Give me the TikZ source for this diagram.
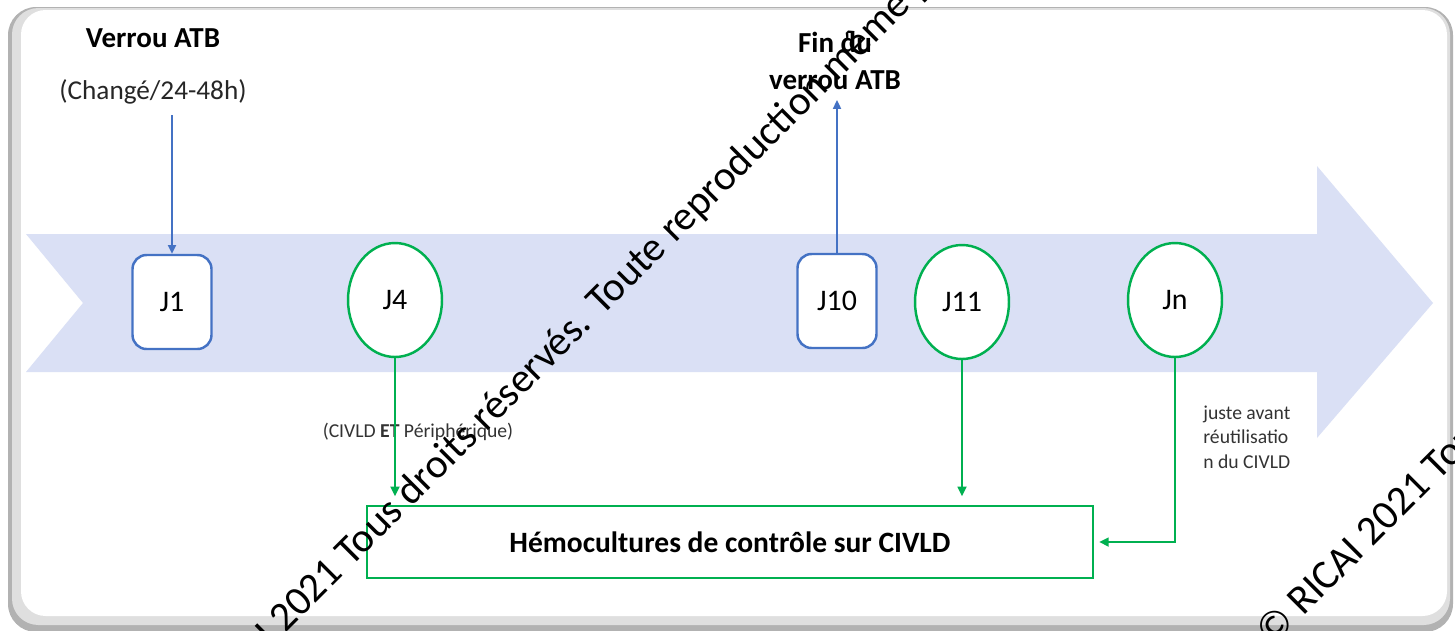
\documentclass[tikz,border=0pt]{standalone}
\usepackage{fontspec}
\setmainfont{Carlito}
\usetikzlibrary{arrows.meta,shapes.geometric}
\definecolor{bl}{HTML}{4472C4}
\definecolor{gr}{HTML}{00B050}
\definecolor{band}{RGB}{218,224,245}
\tikzset{
  sq/.style={draw=bl, line width=1.4pt, fill=white, rounded corners=8pt, minimum width=1.58cm, minimum height=1.88cm, inner sep=0pt, font=\fontsize{17}{20}\selectfont},
  el/.style={ellipse, draw=gr, line width=1.4pt, fill=white, minimum width=1.88cm, minimum height=2.28cm, inner sep=0pt, font=\fontsize{17}{20}\selectfont},
  hbox/.style={draw=gr, line width=1pt, fill=white, minimum width=14.52cm, minimum height=1.44cm, inner sep=0pt, font=\bfseries\fontsize{16.8}{20}\selectfont},
  tb/.style={font=\bfseries\fontsize{16.5}{21}\selectfont, align=center, inner sep=0pt},
  tr/.style={font=\fontsize{15.5}{19}\selectfont, text=black!85, inner sep=0pt},
  small/.style={font=\fontsize{11.2}{14}\selectfont, text=black!80, inner sep=0pt},
  ba/.style={draw=bl, line width=1.1pt, -{Triangle[length=5pt,width=4.5pt]}},
  ga/.style={draw=gr, line width=1.3pt, -{Triangle[length=5.5pt,width=5pt]}},
  wm/.style={rotate=45, inner sep=0pt, font=\fontsize{23.5}{28}\selectfont, text=black}
}
\begin{document}
\begin{tikzpicture}[x=0.02cm,y=-0.02cm]
\useasboundingbox (0,0) rectangle (1455,630);
\begin{scope}
\clip (0,0) rectangle (1455,630);
% frame
\fill[gray!60, rounded corners=16pt] (8,7) rectangle (1453,632);
\fill[gray!25, rounded corners=15pt] (12,8) rectangle (1450,625);
\fill[white, rounded corners=14pt] (21,10) rectangle (1447,616);
% band arrow
\fill[band] (26,234) -- (1317,234) -- (1317,166) -- (1433,303) -- (1317,438) -- (1317,372) -- (26,372) -- (83,303) -- cycle;
% nodes
\node[sq] (j1) at (172,302) {J1};
\node[el] (j4) at (395,300) {J4};
\node[sq] (j10) at (837,301) {J10};
\node[el] (j11) at (962,302) {J11};
\node[el] (jn) at (1175,300) {Jn};
\node[hbox] (h) at (730,542) {Hémocultures de contrôle sur CIVLD};
% labels
\node[tb] (v) at (153,38) {Verrou ATB};
\node[tr] (vc) at (153,92) {(Changé/24-48h)};
\node[tb] (fin) at (835,61) {Fin du\\verrou ATB};
\node[small] (lab4) at (418,432) {(CIVLD \textbf{ET} Périphérique)};
\node[small, align=left, anchor=west] (labn) at (1203,437) {juste avant\\réutilisatio\\n du CIVLD};
% connectors
\coordinate (a1) at (172,115);
\coordinate (a10) at (837,100);
\draw[ba] (a1) -- (j1.north);
\draw[ba] (j10.north) -- (a10);
\draw[ga, shorten >=5pt] (j4.south) -- (j4.south |- h.north);
\draw[ga, shorten >=5pt] (j11.south) -- (j11.south |- h.north);
\draw[ga, shorten >=3pt] (jn.south) |- (h.east);
% watermark
\node[wm, anchor=base west] (wm1) at (285,634) {\llap{© RICAI }2021 Tous droits réservés. Toute reproduction même partielle interdite};
\node[wm, anchor=base west] (wm2) at (1303,617) {\llap{© }RICAI 2021 Tous droits réservés.};
\end{scope}
\end{tikzpicture}
\end{document}
